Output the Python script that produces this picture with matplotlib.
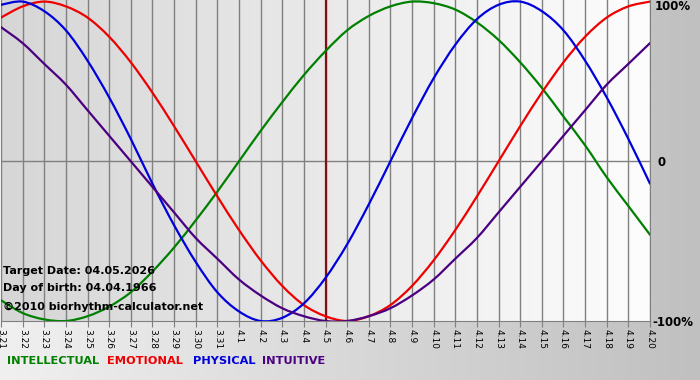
import numpy as np
import matplotlib
matplotlib.use("Agg")
import matplotlib.pyplot as plt
from matplotlib.colors import LinearSegmentedColormap
from matplotlib.path import Path
from matplotlib.patches import PathPatch

# ---- data ----
dates = ["3.21", "3.22", "3.23", "3.24", "3.25", "3.26", "3.27", "3.28", "3.29", "3.30", "3.31",
         "4.1", "4.2", "4.3", "4.4", "4.5", "4.6", "4.7", "4.8", "4.9", "4.10",
         "4.11", "4.12", "4.13", "4.14", "4.15", "4.16", "4.17", "4.18", "4.19", "4.20"]
intellectual = [-0.87, -0.95, -0.99, -1.00, -0.97, -0.91, -0.82, -0.69, -0.54, -0.37, -0.19,
                0.00, 0.19, 0.37, 0.54, 0.69, 0.82, 0.91, 0.97, 1.00, 0.99,
                0.95, 0.87, 0.76, 0.62, 0.46, 0.28, 0.10, -0.10, -0.28, -0.46]
emotional = [0.90, 0.97, 1.00, 0.97, 0.90, 0.78, 0.62, 0.43, 0.22, 0.00, -0.22,
             -0.43, -0.62, -0.78, -0.90, -0.97, -1.00, -0.97, -0.90, -0.78, -0.62,
             -0.43, -0.22, 0.00, 0.22, 0.43, 0.62, 0.78, 0.90, 0.97, 1.00]
physical = [0.98, 1.00, 0.94, 0.82, 0.63, 0.40, 0.14, -0.14, -0.40, -0.63, -0.82,
            -0.94, -1.00, -0.98, -0.89, -0.73, -0.52, -0.27, 0.00, 0.27, 0.52,
            0.73, 0.89, 0.98, 1.00, 0.94, 0.82, 0.63, 0.40, 0.14, -0.14]
intuitive = [0.84, 0.74, 0.61, 0.48, 0.32, 0.16, 0.00, -0.16, -0.32, -0.48, -0.61,
             -0.74, -0.84, -0.92, -0.97, -1.00, -1.00, -0.97, -0.92, -0.84, -0.74,
             -0.61, -0.48, -0.32, -0.16, 0.00, 0.16, 0.32, 0.48, 0.61, 0.74]
target_label = "4.5"
series_names = ["INTELLECTUAL", "EMOTIONAL", "PHYSICAL", "INTUITIVE"]
info_lines = ["Target Date: 04.05.2026", "Day of birth: 04.04.1966", "\u00a92010 biorhythm-calculator.net"]
y_labels = ["100%", "0", "-100%"]

colors = ["#008000", "#ee0000", "#0000dd", "#4b0082"]
W, H = 700, 380


def smooth_path(xs, ys):
    """Catmull-Rom curve through the data points, as cubic Bezier segments."""
    xs = np.asarray(xs, float)
    ys = np.asarray(ys, float)
    pts = np.column_stack([xs, ys])
    n = len(pts)
    verts = [pts[0]]
    codes = [Path.MOVETO]
    for i in range(n - 1):
        p0 = pts[i - 1] if i > 0 else pts[i]
        p1 = pts[i]
        p2 = pts[i + 1]
        p3 = pts[i + 2] if i + 2 < n else pts[i + 1]
        c1 = p1 + (p2 - p0) / 6.0
        c2 = p2 - (p3 - p1) / 6.0
        verts += [c1, c2, p2]
        codes += [Path.CURVE4] * 3
    return Path(verts, codes)


fig = plt.figure(figsize=(7, 3.8), dpi=100)

# figure background gradient
bg = fig.add_axes([0, 0, 1, 1])
bg.set_axis_off()
cm_bg = LinearSegmentedColormap.from_list("bg", ["#f0f0f0", "#c0c0c0"])
bg.imshow(np.linspace(0, 1, 256)[None, :], cmap=cm_bg, aspect="auto", extent=[0, 1, 0, 1])
bg.set_xlim(0, 1); bg.set_ylim(0, 1)

# plot area
ax_left, ax_right, ax_top, ax_bot = 1, 650, 0, 321
ax = fig.add_axes([ax_left / W, 1 - ax_bot / H, (ax_right - ax_left) / W, (ax_bot - ax_top) / H])
x = np.arange(len(dates))
ax.set_xlim(0, len(dates) - 1)
ax.set_ylim(-1.0, 1.01)
cm_pl = LinearSegmentedColormap.from_list("pl", ["#d6d6d6", "#fdfdfd"])
ax.imshow(np.linspace(0, 1, 256)[None, :], cmap=cm_pl, aspect="auto",
          extent=[0, len(dates) - 1, -1.0, 1.01], zorder=0)

for xi in x:
    ax.axvline(xi, color="#808080", lw=1, zorder=1)
ax.axhline(0, color="#808080", lw=1, zorder=1)
ax.axvline(dates.index(target_label), color="#801010", lw=1.6, zorder=2)

for vals, c in zip([intellectual, emotional, physical, intuitive], colors):
    patch = PathPatch(smooth_path(x, vals), facecolor="none", edgecolor=c, lw=1.6,
                      zorder=3, capstyle="round", joinstyle="round")
    ax.add_patch(patch)

ax.set_xticks(x)
ax.set_xticklabels(dates, rotation=270, fontsize=6.5, family="DejaVu Sans")
ax.tick_params(axis="x", length=4, color="#808080", pad=2)
ax.set_yticks([])
for s in ["top", "left"]:
    ax.spines[s].set_visible(False)
for s in ["bottom", "right"]:
    ax.spines[s].set_color("#808080")

# right labels
fig.text(655 / W, 1 - 7 / H, y_labels[0], fontsize=8.5, fontweight="bold", va="center", ha="left")
fig.text(657 / W, 1 - 162 / H, y_labels[1], fontsize=8.5, fontweight="bold", va="center", ha="left")
fig.text(652 / W, 1 - 322 / H, y_labels[2], fontsize=8.5, fontweight="bold", va="center", ha="left")

# info text
for yy, t in zip([271, 288, 307], info_lines):
    fig.text(3 / W, 1 - yy / H, t, fontsize=8, fontweight="bold", va="center", ha="left", zorder=10)

# legend words
for xx, name, c in zip([7, 107, 193, 262], series_names, colors):
    fig.text(xx / W, 1 - 361 / H, name, fontsize=8.2, fontweight="bold", color=c, va="center", ha="left")

fig.savefig("out.png", dpi=100)
